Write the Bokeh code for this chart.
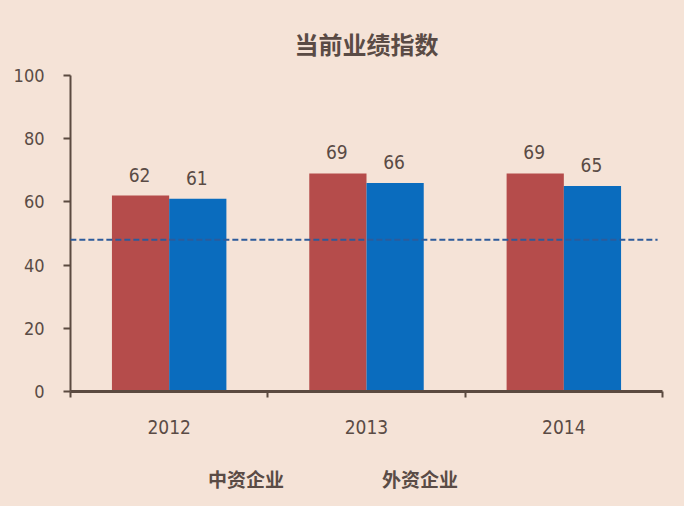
from bokeh.plotting import figure
from bokeh.layouts import column
from bokeh.models import (ColumnDataSource, Range1d, FixedTicker, LabelSet, Legend,
                          LegendItem, Arrow)
from bokeh.transform import dodge
from bokeh.core.properties import value
from bokeh.embed import file_html
from bokeh.resources import INLINE

# ---- data ----
years = ["2012", "2013", "2014"]
domestic = [62, 69, 69]      # 中资企业
foreign = [61, 66, 65]       # 外资企业
threshold = 48
series_names = ["中资企业", "外资企业"]
y_ticks = [0, 20, 40, 60, 80, 100]

BG = "#F5E3D7"
RED = "#B54C4B"
BLUE = "#0A6CBE"
TXT = "#5A4B45"
AXIS = "#5B4A40"
NUM_FONT_STR = "'Liberation Sans Narrow', 'DejaVu Sans Condensed', sans-serif"
NUM_FONT = value(NUM_FONT_STR)

centers = [i + 0.5 for i in range(len(years))]
src = ColumnDataSource(dict(
    x=centers, years=years, dom=domestic, fgn=foreign,
    dom_lbl=[str(v) for v in domestic], fgn_lbl=[str(v) for v in foreign],
))

p = figure(frame_width=592, frame_height=316, output_backend="svg", toolbar_location=None,
           x_range=Range1d(0, len(years)), y_range=Range1d(0, 100),
           min_border_left=70, min_border_right=22, min_border_top=75,
           min_border_bottom=60)
p.background_fill_color = BG
p.border_fill_color = BG
p.outline_line_color = None
p.grid.grid_line_color = None

bw = 0.29
r_dom = p.vbar(x=dodge("x", -bw / 2), top="dom", width=bw, source=src,
               fill_color=RED, line_color=None)
r_fgn = p.vbar(x=dodge("x", bw / 2), top="fgn", width=bw, source=src,
               fill_color=BLUE, line_color=None)

for col, lbl, off in (("dom", "dom_lbl", -bw / 2), ("fgn", "fgn_lbl", bw / 2)):
    p.add_layout(LabelSet(x=dodge("x", off), y=col, text=lbl, source=src,
                          y_offset=14, x_offset=-1, text_align="center",
                          text_baseline="alphabetic",
                          text_font=NUM_FONT, text_font_size="19px",
                          text_color=TXT))

# reference dashed line (extends slightly beyond the y-axis like the original)
p.add_layout(Arrow(x_start=-0.092, y_start=threshold, x_end=2.975, y_end=threshold,
                   start=None, end=None, line_color="#2D5B9B", line_width=2,
                   line_dash="6 3"))

# x axis: labels at category centres, ticks at category boundaries
xa = p.xaxis[0]
xa.ticker = FixedTicker(ticks=centers, minor_ticks=list(range(len(years) + 1)))
xa.major_label_overrides = {c: y for c, y in zip(centers, years)}
xa.major_tick_line_color = None
xa.major_tick_out = 0
xa.major_tick_in = 0
xa.minor_tick_out = 6
xa.minor_tick_in = 0
xa.minor_tick_line_color = AXIS
xa.minor_tick_line_width = 2
xa.axis_line_color = AXIS
xa.axis_line_width = 3
xa.major_label_standoff = 22
xa.major_label_text_font = NUM_FONT_STR
xa.major_label_text_font_size = "19px"
xa.major_label_text_color = TXT

ya = p.yaxis[0]
ya.ticker = FixedTicker(ticks=y_ticks, minor_ticks=[])
ya.axis_line_color = AXIS
ya.axis_line_width = 2
ya.major_tick_line_color = AXIS
ya.major_tick_line_width = 2
ya.major_tick_out = 7
ya.major_tick_in = 0
ya.minor_tick_line_color = None
ya.major_label_standoff = 19
ya.major_label_text_font = NUM_FONT_STR
ya.major_label_text_font_size = "18px"
ya.major_label_text_color = TXT

p.title.text = "当前业绩指数"
p.title.align = "center"
p.title.vertical_align = "top"
p.title.text_font = "Noto Sans CJK SC"
p.title.text_font_size = "24px"
p.title.text_font_style = "bold"
p.title.text_color = TXT
p.title.standoff = 26

# ---- legend strip below the chart ----
lg = figure(frame_width=684, frame_height=55, output_backend="svg", toolbar_location=None,
            x_range=Range1d(0, 1), y_range=Range1d(0, 1), min_border=0,
            x_axis_location=None, y_axis_location=None)
lg.background_fill_color = BG
lg.border_fill_color = BG
lg.outline_line_color = None
lg.grid.grid_line_color = None
lg_dom = lg.vbar(x=[], top=[], width=0.1, fill_color=RED, line_color=None)
lg_fgn = lg.vbar(x=[], top=[], width=0.1, fill_color=BLUE, line_color=None)

legend = Legend(items=[LegendItem(label=series_names[0], renderers=[lg_dom]),
                       LegendItem(label=series_names[1], renderers=[lg_fgn])],
                orientation="horizontal", location=(183, 14),
                background_fill_alpha=0, border_line_color=None,
                glyph_width=13, glyph_height=13, label_standoff=12, spacing=73,
                label_text_font="Noto Sans CJK SC", label_text_font_size="19px",
                label_text_font_style="bold", label_text_color=TXT,
                margin=0, padding=0)
lg.add_layout(legend)

layout = column(p, lg, spacing=0)

html = file_html(layout, INLINE)
html = html.replace("<head>", "<head><style>body{background:%s;}</style>" % BG, 1)
open("out.html", "w").write(html)
